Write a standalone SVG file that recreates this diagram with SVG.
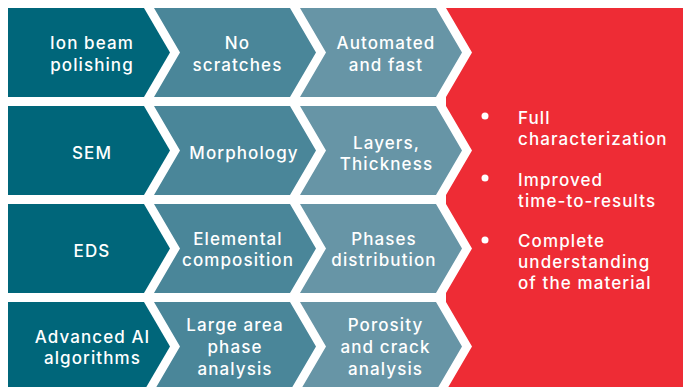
<svg xmlns="http://www.w3.org/2000/svg" width="683" height="387" viewBox="0 0 683 387">
  <style>
    .c1 { fill: #00667a; }
    .c2 { fill: #4a8699; }
    .c3 { fill: #6795a6; }
    .res { fill: #ee2c35; }
    text { font-family: Inter, "Liberation Sans", Arial, sans-serif; font-size: 17px; font-weight: 500; letter-spacing: 1.1px; fill: #ffffff; }
    .m { text-anchor: middle; }
    .dot { fill: #ffffff; }
  </style>
  <rect width="683" height="387" fill="#ffffff"/>

  <!-- result panel with notched left edge -->
  <g id="results">
    <path class="res" d="M446,8 L472,52.5 L446,97 V106 L472,150.5 L446,195 V204 L472,248.5 L446,293 V302 L472,346.5 L446,391 H683 V8 Z"/>
    <circle class="dot" cx="485" cy="116" r="3.5"/>
    <circle class="dot" cx="485" cy="178" r="3.5"/>
    <circle class="dot" cx="485" cy="240" r="3.5"/>
    <text x="518" y="124">Full</text>
    <text x="518" y="145">characterization</text>
    <text x="518" y="186">Improved</text>
    <text x="518" y="207">time-to-results</text>
    <text x="518" y="247">Complete</text>
    <text x="518" y="268">understanding</text>
    <text x="518" y="289">of the material</text>
  </g>

  <!-- row 1 -->
  <g id="ion-beam">
    <path class="c1" d="M8,8 H144 L170,52.5 L144,97 H8 Z"/>
    <text class="m" x="92" y="49">Ion beam</text>
    <text class="m" x="92" y="71">polishing</text>
  </g>
  <g id="no-scratches">
    <path class="c2" d="M154,8 H290 L316,52.5 L290,97 H154 L180,52.5 Z"/>
    <text class="m" x="237.5" y="49">No</text>
    <text class="m" x="237.5" y="71">scratches</text>
  </g>
  <g id="automated">
    <path class="c3" d="M300,8 H436 L462,52.5 L436,97 H300 L326,52.5 Z"/>
    <text class="m" x="386" y="49">Automated</text>
    <text class="m" x="386" y="71">and fast</text>
  </g>

  <!-- row 2 -->
  <g id="sem">
    <path class="c1" d="M8,106 H144 L170,150.5 L144,195 H8 Z"/>
    <text class="m" x="92" y="158.5">SEM</text>
  </g>
  <g id="morphology">
    <path class="c2" d="M154,106 H290 L316,150.5 L290,195 H154 L180,150.5 Z"/>
    <text class="m" x="244" y="158.5">Morphology</text>
  </g>
  <g id="layers">
    <path class="c3" d="M300,106 H436 L462,150.5 L436,195 H300 L326,150.5 Z"/>
    <text class="m" x="386.5" y="148.5">Layers,</text>
    <text class="m" x="386.5" y="169.5">Thickness</text>
  </g>

  <!-- row 3 -->
  <g id="eds">
    <path class="c1" d="M8,204 H144 L170,248.5 L144,293 H8 Z"/>
    <text class="m" x="92" y="256.5">EDS</text>
  </g>
  <g id="elemental">
    <path class="c2" d="M154,204 H290 L316,248.5 L290,293 H154 L180,248.5 Z"/>
    <text class="m" x="238" y="244.5">Elemental</text>
    <text class="m" x="238" y="265.5">composition</text>
  </g>
  <g id="phases">
    <path class="c3" d="M300,204 H436 L462,248.5 L436,293 H300 L326,248.5 Z"/>
    <text class="m" x="384" y="244.5">Phases</text>
    <text class="m" x="384" y="265.5">distribution</text>
  </g>

  <!-- row 4 -->
  <g id="ai">
    <path class="c1" d="M8,302 H144 L170,346.5 L144,391 H8 Z"/>
    <text class="m" x="92.5" y="342.5">Advanced AI</text>
    <text class="m" x="92.5" y="363.5">algorithms</text>
  </g>
  <g id="large-area">
    <path class="c2" d="M154,302 H290 L316,346.5 L290,391 H154 L180,346.5 Z"/>
    <text class="m" x="235" y="331">Large area</text>
    <text class="m" x="235" y="353">phase</text>
    <text class="m" x="235" y="374.5">analysis</text>
  </g>
  <g id="porosity">
    <path class="c3" d="M300,302 H436 L462,346.5 L436,391 H300 L326,346.5 Z"/>
    <text class="m" x="385.5" y="331">Porosity</text>
    <text class="m" x="385.5" y="353">and crack</text>
    <text class="m" x="385.5" y="374.5">analysis</text>
  </g>

  <!-- no connectors: stages are joined by their chevron shapes -->
  <g id="connectors"/>
</svg>
